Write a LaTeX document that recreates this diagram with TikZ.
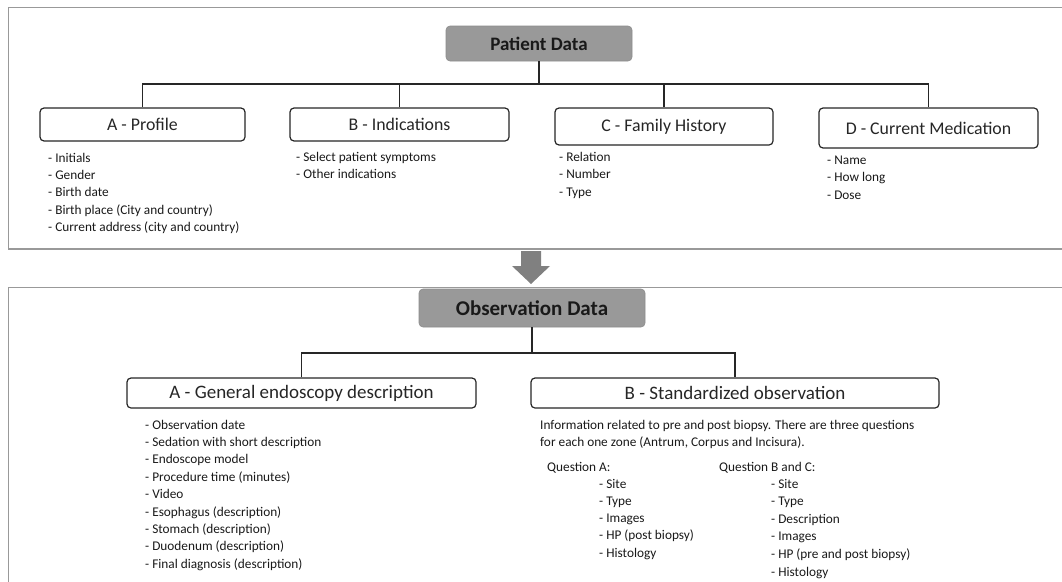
\documentclass[tikz,border=0pt]{standalone}
\usepackage{fontspec}
\setmainfont{Carlito}
\begin{document}
\begin{tikzpicture}[x=1pt,y=-1pt,
  frame/.style={draw=black!40,line width=1.2pt},
  head/.style={draw=black!45,fill=black!40,rounded corners=4pt,line width=0.6pt,
    font=\fontsize{19}{22}\selectfont\bfseries,inner sep=0pt,text=black!90},
  cat/.style={draw=black!85,rounded corners=4pt,line width=1.2pt,fill=white,
    font=\fontsize{17.8}{20}\selectfont,inner sep=0pt,text=black!85},
  obs/.style={cat,font=\fontsize{19}{22}\selectfont},
  conn/.style={draw=black!85,line width=1.3pt},
  item/.style={anchor=base west,inner sep=0pt,font=\fontsize{13.3}{15}\selectfont,text=black!90},
  arrowfill/.style={fill=black!50,draw=none}]
\useasboundingbox (0,0) rectangle (1062,581);
\clip (0,0) rectangle (1062,581);
% frames
\draw[frame] (8.5,7.5) rectangle (1070,249);
\draw[frame] (8.5,287.5) rectangle (1070,600);
% arrow between sections
\fill[arrowfill] (521,251) -- (541,251) -- (541,266) -- (550,266) -- (531,284) -- (512,266) -- (521,266) -- cycle;

% ---------------- Patient data ----------------
\node[head,minimum width=186pt,minimum height=35pt] (pd) at (539,43.5) {Patient Data};
\node[cat,minimum width=205pt,minimum height=33pt] (pa) at (142.5,124.5) {A - Profile};
\node[cat,minimum width=219pt,minimum height=33pt] (pb) at (399.5,124.5) {B - Indications};
\node[cat,minimum width=218pt,minimum height=37pt] (pc) at (664,126.5) {C - Family History};
\node[cat,minimum width=219pt,minimum height=40pt] (pdm) at (928.5,128) {D - Current Medication};
\coordinate (phub) at (539,84);
\draw[conn] (pd.south) -- (phub);
\draw[conn] (pa.north) |- (phub) -| (pdm.north);
\draw[conn] (pb.north) -- (pb.north |- phub);
\draw[conn] (pc.north) -- (pc.north |- phub);

\foreach \t [count=\i] in {- Initials,- Gender,- Birth date,- Birth place (City and country),- Current address (city and country)}
  \node[item] (la\i) at ({48},{162+17.4*(\i-1)}) {\t};
\foreach \t [count=\i] in {- Select patient symptoms,- Other indications}
  \node[item] (lb\i) at ({296},{161+17.4*(\i-1)}) {\t};
\foreach \t [count=\i] in {- Relation,- Number,- Type}
  \node[item] (lc\i) at ({559},{161+17.8*(\i-1)}) {\t};
\foreach \t [count=\i] in {- Name,- How long,- Dose}
  \node[item] (ld\i) at ({827},{164+17.6*(\i-1)}) {\t};

% ---------------- Observation data ----------------
\node[head,minimum width=226pt,minimum height=38pt,font=\fontsize{21}{24}\selectfont\bfseries] (od) at (532,308) {Observation Data};
\node[obs,minimum width=349pt,minimum height=30pt] (oa) at (301.5,393) {A - General endoscopy description};
\node[obs,minimum width=408pt,minimum height=30pt] (ob) at (735,393) {B - Standardized observation};
\coordinate (ohub) at (532,353);
\draw[conn] (od.south) -- (ohub);
\draw[conn] (oa.north) |- (ohub) -| (ob.north);

\foreach \t [count=\i] in {- Observation date,- Sedation with short description,- Endoscope model,- Procedure time (minutes),- Video,- Esophagus (description),- Stomach (description),- Duodenum (description),- Final diagnosis (description)}
  \node[item] (ga\i) at ({145},{429+17.4*(\i-1)}) {\t};

\node[item] (para1) at (540,429) {Information related to pre and post biopsy. There are three questions};
\node[item] (para2) at (540,446) {for each one zone (Antrum, Corpus and Incisura).};
\node[item] (qa) at (547,471) {Question A:};
\node[item] (qbc) at (719,471) {Question B and C:};
\foreach \t [count=\i] in {- Site,- Type,- Images,- HP (post biopsy),- Histology}
  \node[item] (qai\i) at ({599},{488+17.3*(\i-1)}) {\t};
\foreach \t [count=\i] in {- Site,- Type,- Description,- Images,- HP (pre and post biopsy),- Histology}
  \node[item] (qbi\i) at ({771},{488+17.6*(\i-1)}) {\t};
\end{tikzpicture}
\end{document}
